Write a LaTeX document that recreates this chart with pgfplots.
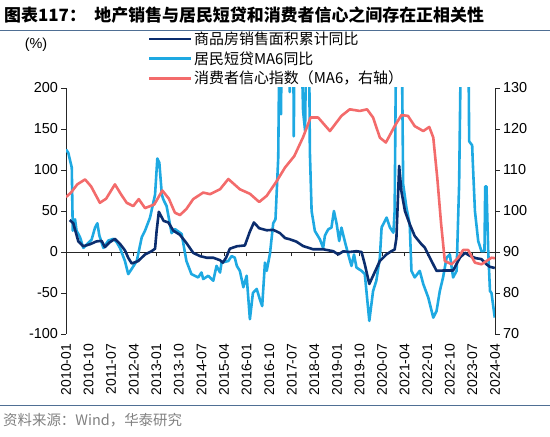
\documentclass[border=0pt]{standalone}
\usepackage{fontspec}
\setmainfont{Liberation Sans}
\newfontfamily\cjk{Noto Sans CJK SC}
\usepackage{pgfplots}
\pgfplotsset{compat=1.18}
\definecolor{navy}{HTML}{0B2D6E}
\definecolor{lblue}{HTML}{1EA9E2}
\definecolor{salmon}{HTML}{F36B6B}
\definecolor{rulec}{HTML}{4F6F94}
\definecolor{srcgray}{HTML}{808080}
\begin{document}
\begin{tikzpicture}
\useasboundingbox (0bp,0bp) rectangle (550bp,437bp);
\node[anchor=west, font=\cjk\bfseries\fontsize{17}{19}\selectfont, inner sep=0] at (4bp,422bp) {图表117：\hspace{0.5em}地产销售与居民短贷和消费者信心之间存在正相关性};
\draw[rulec, line width=1bp] (0bp,406bp) -- (550bp,406bp);
\draw[rulec, line width=1bp] (0bp,31bp) -- (550bp,31bp);
\node[anchor=west, font=\cjk\fontsize{14.5}{16}\selectfont, text=srcgray, inner sep=0] at (3bp,17bp) {资料来源：Wind，华泰研究};
\node[font=\fontsize{14.5}{16}\selectfont, inner sep=0] at (36bp,392bp) {(\%)};

\begin{axis}[
  at={(66bp,103bp)}, anchor=south west, scale only axis,
  width=429bp, height=246bp,
  xmin=0, xmax=171, ymin=-100, ymax=200,
  axis y line*=left, axis x line*=middle,
  hide obscured y ticks=false,
  hide obscured x ticks=false,
  ytick={-100,-50,0,50,100,150,200},
  xtick={0,9,...,171},
  xticklabels={2010-01,2010-10,2011-07,2012-04,2013-01,2013-10,2014-07,2015-04,2016-01,2016-10,2017-07,2018-04,2019-01,2019-10,2020-07,2021-04,2022-01,2022-10,2023-07,2024-04},
  xticklabel style={rotate=90, anchor=east, font=\fontsize{14}{16}\selectfont},
  xticklabel shift=84bp,
  yticklabel style={font=\fontsize{14.5}{16}\selectfont},
  /pgf/number format/assume math mode=true,
  tick align=outside, major tick length=4.5bp,
  every tick/.style={black!85, line width=0.7bp},
  axis line style={black!85, line width=0.8bp},
  clip=true,
  legend style={at={(0.191,1.235)}, anchor=north west, draw=none, fill=none,
    font=\cjk\fontsize{15}{17}\selectfont, row sep=2.5bp, inner sep=0pt,
    nodes={inner sep=1.5bp}},
  legend cell align=left,
  legend image code/.code={\draw[#1] (0bp,0bp) -- (42bp,0bp);},
]
\addplot[lblue, line width=2.6bp, line join=round, forget plot] coordinates {
(0,125) (0.9,121) (2.3,103) (2.7,26) (3.6,40) (4.2,26) (5.6,18) (6.9,5) (8.9,11) (10.2,15) (11.6,30) (12.5,35) (13.3,20) (14.9,5) (16.9,14) (18.9,16) (20.2,12) (21.5,5) (23.5,-11) (24.8,-27) (26.1,-21) (28.2,-11) (30.2,18) (31.5,26) (33.5,42) (35.5,70) (36.4,114) (37.2,109) (38.2,70) (38.8,64) (40.1,56) (42.1,23) (43.4,28) (46.1,22) (48,-11) (50,-27) (52.7,-31) (54,-25) (54.7,-33) (56.7,-29) (58.7,-35) (60,-17) (61.4,-25) (62,-13) (64.7,-11) (66,-5) (67.3,-7) (68.1,-17) (69.3,-23) (70.7,-43) (72,-29) (73.3,-82) (74.5,-50) (76,-45) (77.3,-58) (78.2,-66) (79.3,-13) (80,-23) (81.3,-2) (82.6,35) (83.5,40) (84.6,115) (85.2,300) (85.5,300) (85.7,168) (86.1,300) (88.8,300) (89.2,195) (89.6,300) (90.5,300) (90.8,141) (91.2,300) (93.5,300) (94.5,172) (95.3,148) (95.9,300) (96.8,300) (97.2,123) (97.9,50) (99.2,25.6) (101.2,15.5) (102.5,5) (103.2,20) (104.5,27.6) (105.8,29.7) (106.8,50) (107.9,34) (108.9,13.4) (109.8,29.7) (111.1,13.4) (112.5,-3) (113.8,-17) (114.8,-3) (115.8,-19) (117.8,-23) (119.1,-27) (120.9,-84) (122.4,-47.6) (123.7,-35) (125.1,-7) (125.8,30) (127.8,42) (129.1,30) (130.5,23.6) (131,50) (131.7,300) (133.7,300) (134.4,82.6) (135.7,54) (137,33.8) (137.7,-23) (139,-31) (141,-23) (142.4,-39) (144.4,-55.6) (146.4,-80) (147.7,-72) (149,-47.6) (150.3,-31) (151.7,-7) (153,-3) (154.3,-31) (155.7,-23) (156.7,82.6) (157.6,300) (160.3,300) (160.7,135) (161.9,130) (162.1,113) (163,50) (164.3,13.4) (165.6,1) (166.8,1) (167.1,80) (167.6,80) (168.3,1) (169,-47.6) (169.6,-50) (170.9,-80)
};
\addplot[navy, line width=2.6bp, line join=round] coordinates {
(1.5,39) (2.9,35) (4.9,13) (6.9,7) (9.6,9.5) (12.2,13) (14.2,13.5) (15.5,6) (17.5,12) (19.5,16) (21.5,10) (23.5,2) (24.8,-7) (26.2,-14) (28.8,-11) (31.5,-3) (34.1,1) (35.5,4) (36.1,25) (37,49) (38.9,38) (40.8,36) (42.8,26) (45.4,21) (48,11) (50.7,-1) (53.4,-5) (56.1,-7) (58.7,-7) (61.4,-10) (62.5,-13) (63.8,-7) (65.3,4) (68.1,7) (71.3,8) (73.3,25) (74.9,36) (77,29) (80,26.5) (82.6,27) (84,25) (85.3,23) (87.3,17) (89.2,15.5) (91.8,12.7) (94.5,7.3) (98.5,3.3) (102.5,3.3) (106.5,1) (108.5,-3) (110.5,0.8) (113,0) (115.8,1) (117.8,0) (119.1,-15) (120.9,-39) (122.4,-29) (125.1,-11) (127.7,-3) (129.7,1) (131,3) (131.7,17) (132.8,105) (133.7,74) (135.1,50) (137,34) (139,19.5) (141.7,9.4) (143,5.4) (145,-6.8) (147.7,-23) (150.3,-22.6) (154.3,-22.6) (157,-7) (159,-1) (161,-4.7) (163.3,-7.5) (165.6,-8.7) (167.6,-15) (168.9,-18) (170.9,-19.5)
};
\addlegendentry{商品房销售面积累计同比}
\addlegendimage{lblue, line width=2.6bp}
\addlegendentry{居民短贷MA6同比}
\addlegendimage{salmon, line width=2.6bp}
\addlegendentry{消费者信心指数（MA6，右轴）}
\end{axis}

\begin{axis}[
  at={(66bp,103bp)}, anchor=south west, scale only axis,
  width=429bp, height=246bp,
  xmin=0, xmax=171, ymin=70, ymax=130,
  axis y line*=right, axis x line=none,
  ytick={70,80,90,100,110,120,130},
  yticklabel style={font=\fontsize{14.5}{16}\selectfont},
  /pgf/number format/assume math mode=true,
  tick align=outside, major tick length=4.5bp,
  every tick/.style={black!85, line width=0.7bp},
  axis line style={black!85, line width=0.8bp},
]
\addplot[salmon, line width=2.6bp, line join=round] coordinates {
(0,103.4) (2,104.5) (4.5,106.5) (7.6,107.7) (10,106) (13.5,102) (16,103) (19.5,106.5) (22,104) (24.2,102) (26.8,101.2) (29,102.9) (31.5,100.7) (35.2,101.6) (38.4,105) (41,103) (43.4,99.6) (45.4,99) (48,100.5) (50.7,102.9) (54.7,104.5) (57.4,104.1) (61.4,105.3) (64.7,107.8) (69.3,105.3) (73.3,104.2) (77,102.2) (80,103.7) (84,107.3) (87.3,110.6) (91,113.4) (94.5,118) (97.5,122.8) (100.5,122.8) (105.2,119.5) (109.8,123.2) (113.1,124.8) (117.1,124.4) (120,124.8) (122.4,122.8) (125.1,117.9) (127.5,116.7) (131,120.7) (133.7,123.4) (136.3,123.2) (139,120.7) (142.4,119.5) (144.8,120.5) (146.4,117.9) (148,108) (149.5,97) (151,87.8) (153.7,87) (156.3,88.6) (158.3,90.5) (160.3,90.5) (163,87.4) (165.6,87) (167.6,87.8) (169.6,88.6) (171,88.5)
};
\end{axis}
\end{tikzpicture}
\end{document}
